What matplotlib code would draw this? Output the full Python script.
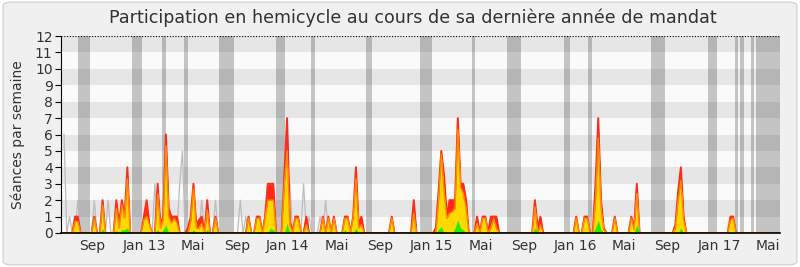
import numpy as np
import matplotlib
matplotlib.use("Agg")
import matplotlib.pyplot as plt
from matplotlib.patches import FancyBboxPatch

# ---------------- data (x = week index since mid-June 2012) ----------------
n_weeks = 261

gray_weeks = [0, 2, 5, 11, 16, 33, 42, 43, 50, 55, 64, 66, 82, 87, 89, 93, 95]
gray_vals = [6, 1, 2, 2, 2, 3, 3, 5, 2, 2, 2, 1, 3, 3, 1, 1, 2]

red_weeks = [4, 5, 11, 14, 19, 20, 21, 22, 23, 29, 30, 31, 34, 35, 36, 37, 38, 39, 40, 41,
             45, 46, 47, 48, 49, 50, 52, 55, 67, 70, 71, 73, 74, 75, 76, 80, 81, 82, 84, 85,
             88, 94, 96, 98, 102, 103, 105, 106, 107, 108, 119, 127, 135, 136, 137, 138, 139,
             140, 141, 142, 143, 144, 145, 146, 150, 152, 153, 155, 156, 157, 171, 172, 173,
             186, 189, 190, 193, 194, 195, 196, 200, 206, 207, 208, 222, 223, 224, 225, 242, 243]
red_vals = [1, 1, 1, 2, 2, 0.5, 2, 1, 4, 1, 2, 0.5, 3, 0.5, 1, 6, 1.5, 1, 1, 1,
            0.3, 1, 3, 0.5, 0.8, 1, 2, 1, 1, 1, 1, 1, 3, 3, 3, 3.5, 7, 0.8, 1, 1,
            1, 1, 1, 1, 1, 1, 1, 4, 0.5, 1, 1, 2, 0.3, 2.5, 5, 3.5, 1,
            2, 2, 2, 7, 3, 3, 2, 1, 1, 1, 1, 1, 1, 2, 0.3, 1,
            1, 1, 1, 3, 7, 2, 0.3, 1, 1, 0.3, 3, 0.5, 2.5, 4, 1, 1, 1]

yellow_weeks = [4, 5, 11, 14, 19, 20, 21, 22, 23, 29, 30, 31, 34, 35, 36, 37, 38, 39, 40, 41,
                46, 47, 48, 49, 50, 52, 55, 67, 70, 71, 73, 74, 75, 76, 80, 81, 82, 84, 85,
                88, 94, 96, 98, 102, 103, 105, 106, 107, 108, 119, 127, 136, 137, 138, 139,
                140, 141, 142, 143, 144, 145, 146, 150, 152, 153, 155, 156, 157, 171, 173,
                186, 189, 190, 193, 194, 195, 196, 200, 206, 207, 208, 222, 223, 224, 225, 242, 243]
yellow_vals = [0.7, 0.7, 0.9, 1.7, 1.5, 0.3, 1.7, 0.9, 3.3, 0.8, 1, 0.5, 2.4, 0.3, 0.8, 5.3, 1, 0.6, 0.9, 0.6,
               0.7, 2.7, 0.3, 0.3, 0.6, 1.4, 0.9, 0.9, 0.9, 0.9, 0.9, 2, 2, 2, 3, 5, 0.5, 0.9, 0.9,
               0.5, 0.9, 0.9, 0.9, 0.9, 0.9, 0.9, 3.3, 0.3, 0.5, 0.9, 1.2, 2, 4.8, 2.5, 0.9,
               1.2, 1.3, 1.5, 6.3, 2.8, 2.4, 1.5, 0.6, 0.9, 0.9, 0.3, 0.9, 0.3, 1.6, 0.5,
               0.9, 0.9, 0.9, 2, 5.8, 1.5, 0.2, 0.9, 0.9, 0.2, 2.4, 0.3, 2, 3.2, 0.8, 0.8, 0.9]

green_weeks = [5, 11, 14, 19, 21, 22, 23, 30, 34, 36, 37, 39, 47, 50, 52, 55, 67, 71, 75, 76,
               81, 85, 96, 102, 106, 119, 127, 136, 137, 142, 143, 144, 145, 153, 156, 171,
               189, 193, 194, 195, 200, 208, 224, 242]
green_vals = [0.1, 0.05, 0.25, 0.15, 0.2, 0.2, 0.3, 0.1, 0.2, 0.2, 0.5, 0.1, 0.2, 0.1, 0.2, 0.1, 0.1, 0.1, 0.3, 0.2,
              0.6, 0.1, 0.1, 0.2, 0.3, 0.1, 0.1, 0.2, 0.4, 0.3, 0.8, 0.3, 0.2, 0.1, 0.1, 0.3,
              0.1, 0.3, 0.8, 0.2, 0.1, 0.5, 0.3, 0.1]

# parliamentary breaks (week index start / end)
vac_start = [5.1, 24.7, 35.6, 43.6, 56.3, 77.0, 89.7, 109.6, 129.3, 148.1, 160.8, 181.5,
             190.3, 213.1, 233.8, 243.6, 245.5, 249.5, 251.3]
vac_end = [9.4, 28.3, 37.0, 45.0, 61.7, 80.2, 91.1, 111.8, 133.6, 149.2, 165.9, 183.7,
           191.7, 218.2, 237.1, 244.7, 246.9, 250.6, 260.0]

tick_weeks = [10.3, 29.2, 46.7, 62.7, 81.1, 99.0, 114.7, 133.4, 151.4, 167.0, 185.8,
              203.4, 219.2, 237.9, 255.7]
tick_labels = ["Sep", "Jan 13", "Mai", "Sep", "Jan 14", "Mai", "Sep", "Jan 15", "Mai",
               "Sep", "Jan 16", "Mai", "Sep", "Jan 17", "Mai"]

title = "Participation en hemicycle au cours de sa dernière année de mandat"
ylabel = "Séances par semaine"


def expand(weeks, vals):
    arr = np.zeros(n_weeks)
    arr[np.array(weeks)] = vals
    return arr


x = np.arange(n_weeks)
gray = expand(gray_weeks, gray_vals)
red = expand(red_weeks, red_vals)
yellow = expand(yellow_weeks, yellow_vals)
green = expand(green_weeks, green_vals)

# ---------------- figure ----------------
fig = plt.figure(figsize=(8, 2.67), dpi=100, facecolor="white")
fig.patches.append(FancyBboxPatch((0.004, 0.008), 0.992, 0.984,
                                  boxstyle="round,pad=0,rounding_size=0.012",
                                  transform=fig.transFigure, fc="#f0f0f0",
                                  ec="#d4d4d4", lw=1.0, zorder=-10))

ax = fig.add_axes([61 / 800, 1 - 233 / 267, (780 - 61) / 800, (233 - 36) / 267])
ax.set_facecolor("#fafafa")

for lo in range(1, 12, 2):
    ax.axhspan(lo, lo + 1, color="#e6e6e6", lw=0, zorder=0)

for s, e in zip(vac_start, vac_end):
    ax.axvspan(s, e, color="#1a1a1a", alpha=0.24, lw=0, zorder=1)

ax.plot(x, gray, color="#bcbcbc", lw=0.9, zorder=2)
ax.fill_between(x, 0, red, color="#ff2a1a", lw=0, zorder=3)
ax.plot(x, red, color="#ff2a1a", lw=1.4, zorder=3)
ax.fill_between(x, 0, yellow, color="#ffd800", lw=0, zorder=4)
ax.plot(x, yellow, color="#ff8c00", lw=1.0, zorder=4)
ax.fill_between(x, 0, green, color="#22ee00", lw=0, zorder=5)

ax.axhline(12, color="black", lw=0.8, ls=(0, (1, 1.5)), zorder=6)

ax.set_xlim(-1.1, 260)
ax.set_ylim(0, 12)
ax.set_yticks(range(0, 13))
ax.set_xticks(tick_weeks)
ax.set_xticklabels(tick_labels)

for sp in ["top", "right"]:
    ax.spines[sp].set_visible(False)
ax.spines["left"].set_color("black")
ax.spines["bottom"].set_color("black")
ax.spines["bottom"].set_linewidth(1.2)
ax.spines["bottom"].set_zorder(7)

ax.tick_params(axis="y", direction="out", length=4, width=0.8, labelsize=10,
               labelcolor="#333333", pad=2)
ax.tick_params(axis="x", length=0, labelsize=10, labelcolor="#333333", pad=4)

fig.text(413 / 800, 1 - 18 / 267, title, ha="center", va="center", fontsize=12.6,
         color="#333333")
fig.text(18 / 800, 1 - 134.5 / 267, ylabel, ha="center", va="center", rotation=90,
         fontsize=10, color="#333333")

fig.savefig("out.png", dpi=100, facecolor=fig.get_facecolor())
